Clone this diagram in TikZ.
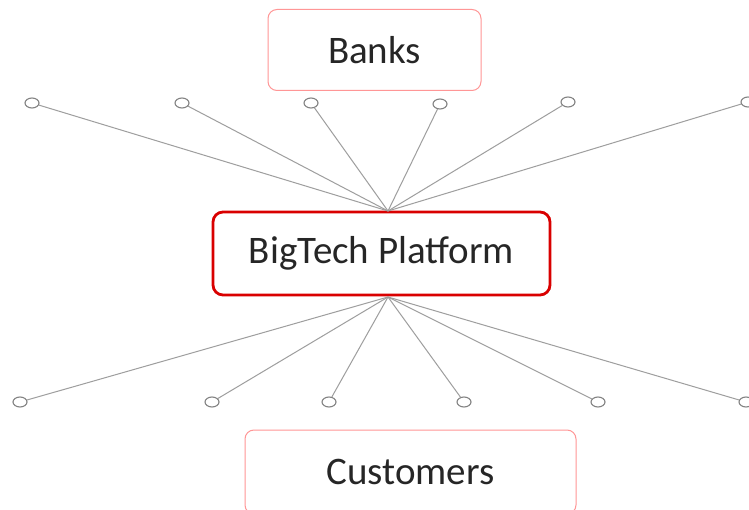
\documentclass[tikz,border=0pt]{standalone}
\usepackage{fontspec}
\setmainfont{Carlito}
\usetikzlibrary{shapes.geometric}
\begin{document}
\begin{tikzpicture}[x=1pt,y=-1pt,
  lightbox/.style={draw=red!40!pink!75, line width=1pt, rounded corners=9pt, fill=white, text=black!85, font=\fontsize{39}{43}\selectfont, inner sep=0pt},
  mainbox/.style={draw=red!85!black, line width=2.8pt, rounded corners=10pt, fill=white, text=black!85, font=\fontsize{39}{43}\selectfont, inner sep=0pt},
  dot/.style={ellipse, draw=black!50, line width=1.1pt, minimum width=14pt, minimum height=10pt, inner sep=0pt, fill=white},
  spoke/.style={draw=black!38, line width=1pt}]
\useasboundingbox (0,0) rectangle (749,510);
\fill[white] (0,0) rectangle (749,510);
\node[lightbox, minimum width=213pt, minimum height=81pt] (banks) at (374.5,50) {Banks};
\node[mainbox, minimum width=337pt, minimum height=83pt] (big) at (381.5,253.5) {BigTech Platform};
\node[lightbox, minimum width=331pt, minimum height=84pt] (cust) at (410.5,472) {Customers};
\coordinate (th) at (388,211);
\coordinate (bh) at (388,297);
\node[dot] (t1) at (32,103) {};
\node[dot] (t2) at (182,103) {};
\node[dot] (t3) at (311,103) {};
\node[dot] (t4) at (440,104) {};
\node[dot] (t5) at (568,102) {};
\node[dot] (t6) at (748,102) {};
\node[dot] (b1) at (20,402) {};
\node[dot] (b2) at (212,402) {};
\node[dot] (b3) at (329,402) {};
\node[dot] (b4) at (464,402) {};
\node[dot] (b5) at (598,402) {};
\node[dot] (b6) at (746,402) {};
\foreach \n in {t1,t2,t3,t4,t5,t6} \draw[spoke] (th) -- (\n);
\foreach \n in {b1,b2,b3,b4,b5,b6} \draw[spoke] (bh) -- (\n);
\end{tikzpicture}
\end{document}
